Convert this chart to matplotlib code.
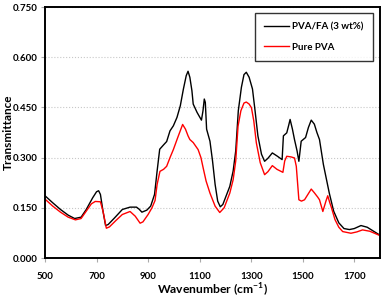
import matplotlib
matplotlib.use("Agg")
import matplotlib.pyplot as plt

plt.rcParams['font.family'] = ['Lato', 'DejaVu Sans']
plt.rcParams['mathtext.fontset'] = 'custom'
plt.rcParams['mathtext.bf'] = 'Lato:bold'
plt.rcParams['mathtext.rm'] = 'Lato:bold'

wn_fa = [500, 530, 560, 590, 615, 640, 660, 685, 700, 708, 715, 725, 735, 745, 770, 800, 830, 855, 865, 876,
         895, 910, 925, 935, 945, 960, 972, 985, 998, 1012, 1025, 1037, 1048, 1055, 1062, 1070, 1075, 1090,
         1107, 1113, 1118, 1122, 1127, 1140, 1150, 1160, 1170, 1180, 1190, 1205, 1217, 1230, 1240, 1250,
         1262, 1272, 1281, 1292, 1305, 1315, 1326, 1340, 1352, 1365, 1382, 1400, 1420, 1425, 1438, 1445,
         1451, 1460, 1468, 1478, 1485, 1494, 1511, 1522, 1533, 1545, 1555, 1565, 1580, 1603, 1620, 1640,
         1660, 1681, 1700, 1726, 1750, 1775, 1800]
t_fa = [0.186, 0.165, 0.145, 0.128, 0.118, 0.122, 0.145, 0.180, 0.198, 0.201, 0.190, 0.140, 0.097, 0.100,
        0.120, 0.145, 0.152, 0.152, 0.146, 0.137, 0.143, 0.155, 0.190, 0.260, 0.325, 0.338, 0.348, 0.380,
        0.395, 0.420, 0.455, 0.505, 0.545, 0.558, 0.540, 0.500, 0.460, 0.435, 0.412, 0.440, 0.475, 0.465,
        0.385, 0.349, 0.290, 0.220, 0.170, 0.153, 0.160, 0.190, 0.214, 0.260, 0.320, 0.440, 0.510, 0.548,
        0.555, 0.540, 0.505, 0.440, 0.365, 0.310, 0.289, 0.298, 0.314, 0.305, 0.294, 0.365, 0.374, 0.395,
        0.414, 0.385, 0.354, 0.320, 0.289, 0.349, 0.360, 0.390, 0.412, 0.400, 0.375, 0.354, 0.280, 0.194,
        0.140, 0.105, 0.088, 0.085, 0.088, 0.097, 0.092, 0.080, 0.068]

wn_pva = [500, 530, 560, 590, 618, 640, 660, 680, 695, 715, 725, 738, 750, 775, 800, 830, 850, 869, 880, 900,
          915, 927, 935, 946, 960, 972, 985, 998, 1015, 1034, 1045, 1055, 1062, 1075, 1094, 1105, 1114, 1125,
          1140, 1160, 1178, 1195, 1217, 1230, 1240, 1249, 1260, 1272, 1281, 1292, 1301, 1310, 1320, 1335,
          1352, 1365, 1382, 1400, 1423, 1430, 1438, 1455, 1468, 1475, 1485, 1495, 1507, 1520, 1533, 1545,
          1558, 1565, 1578, 1590, 1597, 1605, 1610, 1625, 1640, 1655, 1687, 1710, 1732, 1760, 1800]
t_pva = [0.176, 0.155, 0.137, 0.122, 0.114, 0.118, 0.140, 0.162, 0.169, 0.168, 0.140, 0.089, 0.093, 0.112,
         0.130, 0.139, 0.125, 0.104, 0.108, 0.130, 0.150, 0.172, 0.220, 0.259, 0.265, 0.274, 0.300, 0.324,
         0.360, 0.399, 0.385, 0.365, 0.354, 0.345, 0.324, 0.300, 0.268, 0.230, 0.194, 0.155, 0.136, 0.150,
         0.194, 0.234, 0.290, 0.394, 0.440, 0.463, 0.466, 0.460, 0.449, 0.410, 0.344, 0.285, 0.249, 0.258,
         0.276, 0.265, 0.256, 0.290, 0.304, 0.302, 0.299, 0.274, 0.174, 0.170, 0.174, 0.190, 0.206, 0.195,
         0.182, 0.174, 0.139, 0.170, 0.186, 0.165, 0.154, 0.115, 0.092, 0.079, 0.074, 0.078, 0.084, 0.080, 0.067]

x_ticks = [500, 700, 900, 1100, 1300, 1500, 1700]
y_ticks = [0.000, 0.150, 0.300, 0.450, 0.600, 0.750]
labels = ['PVA/FA (3 wt%)', 'Pure PVA']

fig = plt.figure(figsize=(3.86, 2.98), dpi=100)
ax = fig.add_axes([0.1166, 0.1342, 0.868, 0.8423])

ax.plot(wn_fa, t_fa, color='black', lw=1.0, label=labels[0])
ax.plot(wn_pva, t_pva, color='#ff0000', lw=1.0, label=labels[1])

ax.set_xlim(500, 1800)
ax.set_ylim(0, 0.75)
ax.set_xticks(x_ticks)
ax.set_yticks(y_ticks)
ax.set_yticklabels([f'{v:.3f}' for v in y_ticks])
ax.tick_params(axis='both', labelsize=7, width=0.8, length=3, direction='out', color='#aaaaaa')
ax.tick_params(axis='y', pad=2)
ax.tick_params(axis='x', pad=7)
for lab in ax.get_xticklabels() + ax.get_yticklabels():
    lab.set_fontweight('bold')

ax.yaxis.grid(True, linestyle=':', color='#c8c8c8', lw=0.8)
ax.set_axisbelow(True)
for s in ax.spines.values():
    s.set_linewidth(1.4)
    s.set_color('black')

ax.set_xlabel('Wavenumber (cm$^{\\mathbf{-1}}$)', fontsize=8.7, fontweight='bold')
ax.xaxis.set_label_coords(0.5, -0.125)
ax.xaxis.label.set_va('center')
ax.set_ylabel('Transmittance', fontsize=8.5, fontweight='bold')
ax.yaxis.set_label_coords(-0.108, 0.5)
ax.yaxis.label.set_va('center')

leg = ax.legend(loc='upper right', bbox_to_anchor=(0.979, 0.976),
                frameon=True, fancybox=False, edgecolor='black', handlelength=2.6,
                labelspacing=1.15, borderpad=0.95, handletextpad=0.3, borderaxespad=0.0,
                prop={'weight': 'bold', 'size': 7})
leg.get_frame().set_linewidth(1.0)

fig.savefig('out.png', dpi=100)
